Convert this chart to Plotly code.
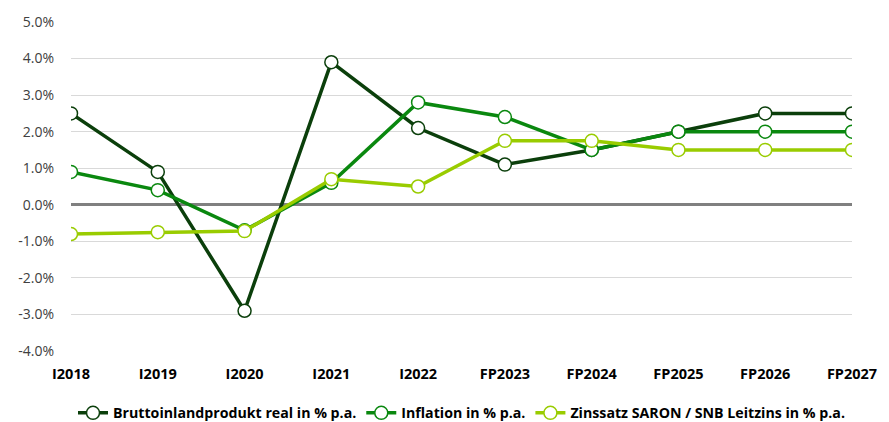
import plotly.graph_objects as go

categories = ["I2018", "I2019", "I2020", "I2021", "I2022",
              "FP2023", "FP2024", "FP2025", "FP2026", "FP2027"]
gdp = [2.5, 0.9, -2.9, 3.9, 2.1, 1.1, 1.5, 2.0, 2.5, 2.5]
inflation = [0.9, 0.4, -0.7, 0.6, 2.8, 2.4, 1.5, 2.0, 2.0, 2.0]
saron = [-0.8, -0.75, -0.72, 0.7, 0.5, 1.75, 1.75, 1.5, 1.5, 1.5]

series_names = ["Bruttoinlandprodukt real in % p.a.",
                "Inflation in % p.a.",
                "Zinssatz SARON / SNB Leitzins in % p.a."]
series_colors = ["#0B3F0B", "#0A880F", "#99CC00"]

y_tick_vals = [5, 4, 3, 2, 1, 0, -1, -2, -3, -4]
y_tick_text = ["5.0%", "4.0%", "3.0%", "2.0%", "1.0%", "0.0%",
               "-1.0%", "-2.0%", "-3.0%", "-4.0%"]

FONT = "Open Sans"

fig = go.Figure()
for name, vals, col in zip(series_names, [gdp, inflation, saron], series_colors):
    fig.add_trace(go.Scatter(
        x=list(range(len(categories))), y=vals, name=name,
        mode="lines+markers",
        line=dict(color=col, width=3.5),
        marker=dict(size=13, color="white", line=dict(color=col, width=1.5)),
    ))

fig.update_layout(
    width=889, height=422,
    margin=dict(l=71, r=28, t=19, b=71),
    paper_bgcolor="white", plot_bgcolor="white",
    font=dict(family=FONT, size=14, color="#000000"),
    showlegend=True,
    legend=dict(orientation="h", x=0.5, xanchor="center",
                yref="container", y=0.021, yanchor="middle",
                font=dict(family=FONT, size=14.2, color="#000000", weight="bold"),
                itemwidth=30, tracegroupgap=0),
    xaxis=dict(
        range=[0, 9], tickmode="array",
        tickvals=list(range(len(categories))), ticktext=categories,
        showgrid=False, zeroline=False, showline=False, ticks="",
        ticklabelstandoff=12,
        tickfont=dict(family=FONT, size=14.5, color="#000000", weight="bold"),
    ),
    yaxis=dict(
        range=[-4, 5], tickmode="array", tickvals=y_tick_vals, ticktext=y_tick_text,
        showgrid=True, gridcolor="#D9D9D9", gridwidth=1,
        zeroline=True, zerolinecolor="#808080", zerolinewidth=3,
        showline=False, ticks="", ticklabelstandoff=16,
        tickfont=dict(family=FONT, size=14, color="#404040"),
    ),
)

fig.write_html("out.html",
               config={"displayModeBar": False},
               post_script="document.body.style.margin='0';document.body.style.overflow='hidden';")
